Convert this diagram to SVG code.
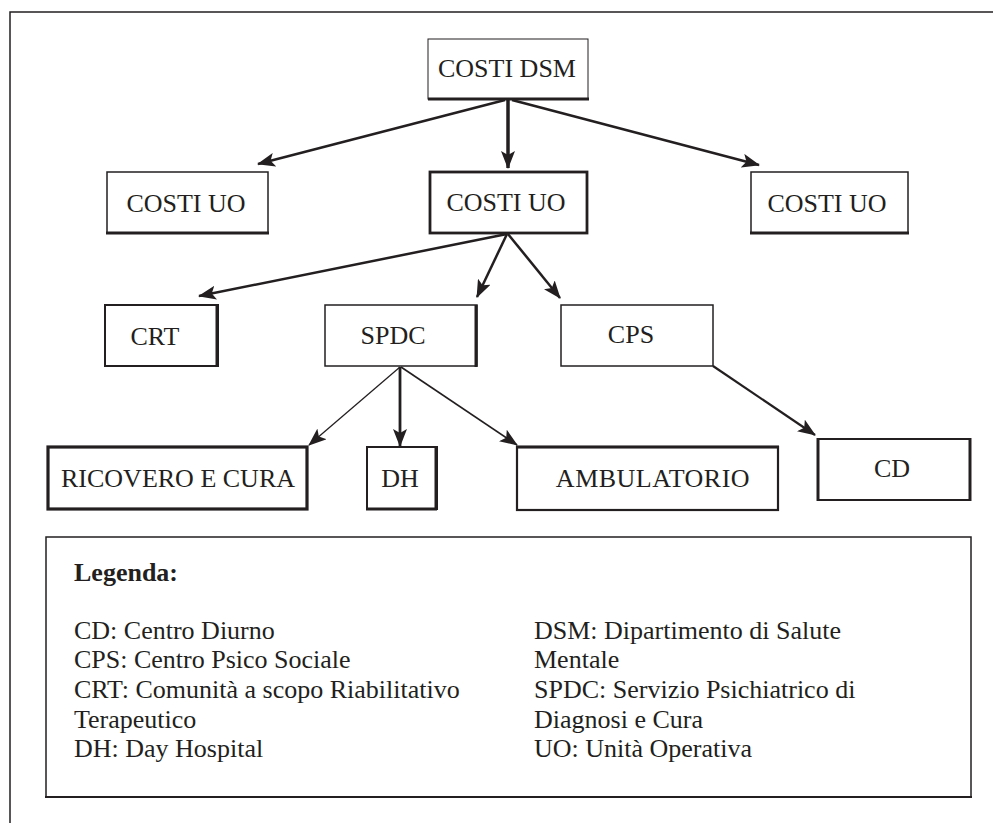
<svg xmlns="http://www.w3.org/2000/svg" width="993" height="823" viewBox="0 0 993 823">
<style>
  .bg { fill: #ffffff; }
  .frame { fill: none; stroke: #231f20; stroke-width: 1.5; }
  .box { fill: #ffffff; stroke: #231f20; }
  .edge { stroke: #231f20; fill: none; }
  .lbl { font-family: "Liberation Serif", "Times New Roman", serif; font-size: 26px; fill: #231f20; text-anchor: middle; }
  .leg { font-family: "Liberation Serif", "Times New Roman", serif; font-size: 26px; fill: #231f20; }
  .legh { font-family: "Liberation Serif", "Times New Roman", serif; font-size: 26px; font-weight: bold; fill: #231f20; }
</style>
<defs>
  <marker id="ah" markerUnits="userSpaceOnUse" markerWidth="18" markerHeight="14" refX="17" refY="7" orient="auto">
    <path d="M0,0 L18,7 L0,14 L4,7 Z" fill="#231f20"/>
  </marker>
</defs>
<rect class="bg" x="0" y="0" width="993" height="823"/>
<rect class="frame" x="10" y="12" width="1000" height="830"/>

<g id="connectors">
  <line class="edge" x1="505" y1="100" x2="258" y2="164" stroke-width="2.5" marker-end="url(#ah)"/>
  <line class="edge" x1="508" y1="100" x2="508" y2="168" stroke-width="3.5" marker-end="url(#ah)"/>
  <line class="edge" x1="512" y1="100" x2="759" y2="165" stroke-width="2.5" marker-end="url(#ah)"/>
  <line class="edge" x1="507" y1="234" x2="199" y2="296" stroke-width="2.5" marker-end="url(#ah)"/>
  <line class="edge" x1="507" y1="234" x2="477" y2="297" stroke-width="2.5" marker-end="url(#ah)"/>
  <line class="edge" x1="508" y1="234" x2="560" y2="298" stroke-width="2.5" marker-end="url(#ah)"/>
  <line class="edge" x1="400" y1="367" x2="309" y2="445" stroke-width="1.3" marker-end="url(#ah)"/>
  <line class="edge" x1="400" y1="367" x2="400" y2="446" stroke-width="2.8" marker-end="url(#ah)"/>
  <line class="edge" x1="401" y1="367" x2="517" y2="445" stroke-width="1.6" marker-end="url(#ah)"/>
  <line class="edge" x1="713" y1="366" x2="815" y2="435" stroke-width="2.2" marker-end="url(#ah)"/>
</g>

<g id="costi-dsm">
  <rect class="box" x="428" y="39" width="160" height="60" stroke-width="1" stroke="#555"/>
  <line x1="428" y1="99" x2="589" y2="99" stroke="#231f20" stroke-width="3"/>
  <text class="lbl" x="507" y="77">COSTI DSM</text>
</g>

<g id="costi-uo-left">
  <rect class="box" x="107" y="172" width="161" height="61" stroke-width="1.5"/>
  <line x1="106" y1="233" x2="269" y2="233" stroke="#231f20" stroke-width="3"/>
  <text class="lbl" x="186" y="212">COSTI UO</text>
</g>

<g id="costi-uo-mid">
  <rect class="box" x="430" y="172" width="157" height="61" stroke-width="2.8"/>
  <text class="lbl" x="506" y="211">COSTI UO</text>
</g>

<g id="costi-uo-right">
  <rect class="box" x="751" y="172" width="157" height="61" stroke-width="1.5"/>
  <line x1="750" y1="233" x2="909" y2="233" stroke="#231f20" stroke-width="3"/>
  <text class="lbl" x="827" y="212">COSTI UO</text>
</g>

<g id="crt">
  <rect class="box" x="105" y="305" width="113" height="61" stroke-width="2"/>
  <line x1="217" y1="305" x2="217" y2="367" stroke="#231f20" stroke-width="3"/>
  <text class="lbl" x="155" y="345">CRT</text>
</g>

<g id="spdc">
  <rect class="box" x="325" y="305" width="152" height="61" stroke-width="1.5"/>
  <line x1="476" y1="305" x2="476" y2="367" stroke="#231f20" stroke-width="3"/>
  <text class="lbl" x="393" y="344">SPDC</text>
</g>

<g id="cps">
  <rect class="box" x="561" y="305" width="152" height="61" stroke-width="1.5"/>
  <text class="lbl" x="631" y="343">CPS</text>
</g>

<g id="ricovero">
  <rect class="box" x="48" y="447" width="259" height="62" stroke-width="3.2"/>
  <text class="lbl" x="178" y="487">RICOVERO E CURA</text>
</g>

<g id="dh">
  <rect class="box" x="367" y="447" width="70" height="62" stroke-width="2"/>
  <line x1="436" y1="447" x2="436" y2="510" stroke="#231f20" stroke-width="3"/>
  <line x1="366" y1="509" x2="437" y2="509" stroke="#231f20" stroke-width="3"/>
  <text class="lbl" x="400" y="487">DH</text>
</g>

<g id="ambulatorio">
  <rect class="box" x="517" y="447" width="261" height="63" stroke-width="2.2"/>
  <line x1="516" y1="447" x2="779" y2="447" stroke="#231f20" stroke-width="3"/>
  <text class="lbl" x="653" y="487" letter-spacing="0.5">AMBULATORIO</text>
</g>

<g id="cd">
  <rect class="box" x="818" y="439" width="152" height="61" stroke-width="2"/>
  <line x1="818" y1="438" x2="818" y2="501" stroke="#231f20" stroke-width="3"/>
  <line x1="970" y1="438" x2="970" y2="501" stroke="#231f20" stroke-width="3"/>
  <text class="lbl" x="892" y="477">CD</text>
</g>

<g id="legenda">
  <rect class="box" x="46" y="537" width="925" height="260" stroke-width="1.5"/>
  <line x1="45" y1="797" x2="972" y2="797" stroke="#231f20" stroke-width="2.2"/>
  <text class="legh" x="74" y="581">Legenda:</text>
  <text class="leg" x="74" y="639">CD: Centro Diurno</text>
  <text class="leg" x="74" y="668">CPS: Centro Psico Sociale</text>
  <text class="leg" x="74" y="698">CRT: Comunità a scopo Riabilitativo</text>
  <text class="leg" x="74" y="728">Terapeutico</text>
  <text class="leg" x="74" y="757">DH: Day Hospital</text>
  <text class="leg" x="534" y="639">DSM: Dipartimento di Salute</text>
  <text class="leg" x="534" y="668">Mentale</text>
  <text class="leg" x="534" y="698">SPDC: Servizio Psichiatrico di</text>
  <text class="leg" x="534" y="728">Diagnosi e Cura</text>
  <text class="leg" x="534" y="757">UO: Unità Operativa</text>
</g>
</svg>
